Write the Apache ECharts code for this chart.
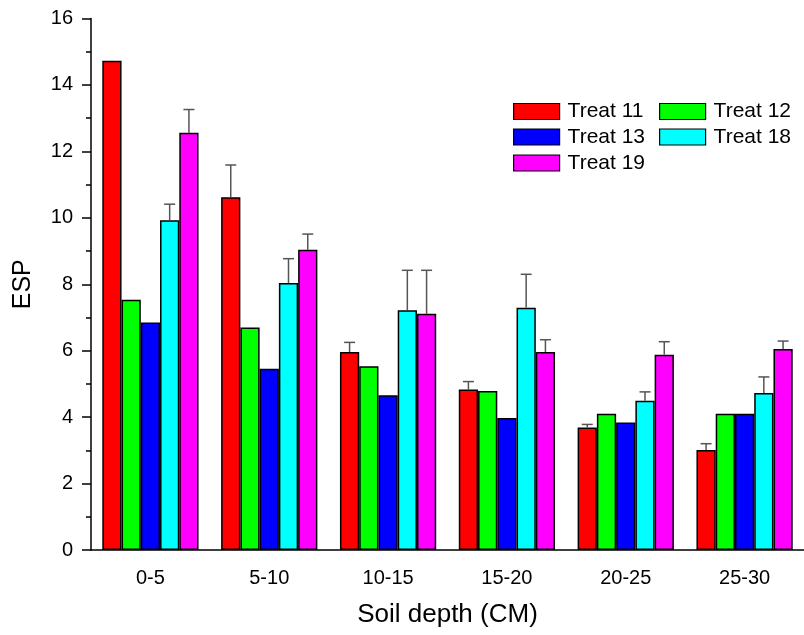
<!DOCTYPE html>
<html>
<head>
<meta charset="utf-8">
<script src="https://cdn.jsdelivr.net/npm/echarts@6/dist/echarts.min.js"></script>
<style>html,body{margin:0;padding:0;background:#fff}#c{width:804px;height:635px}</style>
</head>
<body>
<div id="c"></div>
<script>
const categories = ['0-5', '5-10', '10-15', '15-20', '20-25', '25-30'];
const seriesNames = ['Treat 11', 'Treat 12', 'Treat 13', 'Treat 18', 'Treat 19'];
const treat11 = [14.73, 10.62, 5.96, 4.83, 3.69, 3.01];
const treat12 = [7.53, 6.70, 5.53, 4.79, 4.10, 4.10];
const treat13 = [6.85, 5.46, 4.66, 3.97, 3.84, 4.10];
const treat18 = [9.93, 8.04, 7.22, 7.29, 4.49, 4.73];
const treat19 = [12.56, 9.04, 7.11, 5.96, 5.88, 6.05];
// upper end of the error bar (null = none drawn)
const err11 = [null, 11.59, 6.25, 5.07, 3.78, 3.20];
const err12 = [null, null, null, null, null, null];
const err13 = [null, null, null, null, null, null];
const err18 = [10.41, 8.77, 8.42, 8.30, 4.76, 5.21];
const err19 = [13.26, 9.51, 8.42, 6.33, 6.27, 6.29];
const yTicks = [0, 2, 4, 6, 8, 10, 12, 14, 16];

const values = [treat11, treat12, treat13, treat18, treat19];
const errs = [err11, err12, err13, err18, err19];
const colors = ['#FF0000', '#00FF00', '#0000FF', '#00FFFF', '#FF00FF'];
const FONT = 'Liberation Sans, Arial, Helvetica, sans-serif';
const GAP = 0.19;

const chart = echarts.init(document.getElementById('c'));

const series = [];
values.forEach((vals, si) => {
  series.push({
    name: seriesNames[si],
    type: 'bar',
    data: vals,
    barGap: '0%',
    barCategoryGap: (GAP * 100) + '%',
    itemStyle: { color: colors[si], borderColor: '#000', borderWidth: 1.5 },
    emphasis: { disabled: true },
    z: 2
  });
});
values.forEach((vals, si) => {
  const data = [];
  vals.forEach((v, ci) => { if (errs[si][ci] != null) data.push([ci, v, errs[si][ci]]); });
  series.push({
    type: 'custom',
    data: data,
    encode: { x: 0, y: 2 },
    z: 3,
    silent: true,
    renderItem: function (params, api) {
      const ci = api.value(0), v = api.value(1), e = api.value(2);
      const base = api.coord([ci, v]);
      const top = api.coord([ci, e]);
      const band = api.size([1, 0])[0];
      const bw = band * (1 - GAP) / 5;
      const x = base[0] - band * (1 - GAP) / 2 + bw * (si + 0.5);
      const st = { stroke: '#555', lineWidth: 1.5 };
      return {
        type: 'group',
        children: [
          { type: 'line', shape: { x1: x, y1: base[1], x2: x, y2: top[1] }, style: st },
          { type: 'line', shape: { x1: x - 5.5, y1: top[1], x2: x + 5.5, y2: top[1] }, style: st }
        ]
      };
    }
  });
});

const legendPos = [[513, 101], [659, 101], [513, 126.5], [659, 126.5], [513, 152.5]];
const legends = seriesNames.map((n, i) => ({
  data: [n],
  left: legendPos[i][0],
  top: legendPos[i][1],
  padding: 0,
  icon: 'rect',
  itemWidth: 46,
  itemHeight: 16,
  selectedMode: false,
  itemStyle: { borderColor: '#000', borderWidth: 1.2 },
  textStyle: { fontFamily: FONT, fontSize: 21, color: '#000', padding: [0, 0, 0, 3] }
}));

chart.setOption({
  animation: false,
  backgroundColor: '#fff',
  textStyle: { fontFamily: FONT },
  legend: legends,
  grid: { left: 91, right: -7, top: 18.5, bottom: 85, containLabel: false },
  xAxis: [{
    type: 'category',
    data: categories,
    name: 'Soil depth (CM)',
    nameLocation: 'middle',
    nameGap: 52,
    nameTextStyle: { fontFamily: FONT, fontSize: 26, color: '#000' },
    axisLine: { lineStyle: { color: '#000', width: 1.5 } },
    axisTick: { alignWithLabel: true, length: 9, lineStyle: { color: '#000', width: 1.5 } },
    axisLabel: { interval: 0, margin: 18, fontFamily: FONT, fontSize: 20, color: '#000' },
    splitLine: { show: false }
  }, {
    type: 'category',
    data: categories,
    position: 'bottom',
    axisLine: { show: false },
    axisTick: { length: 5, lineStyle: { color: '#000', width: 1.5 } },
    axisLabel: { show: false },
    splitLine: { show: false }
  }],
  yAxis: {
    type: 'value',
    min: yTicks[0],
    max: yTicks[yTicks.length - 1],
    interval: 2,
    name: 'ESP',
    nameLocation: 'middle',
    nameGap: 55,
    nameTextStyle: { fontFamily: FONT, fontSize: 25, color: '#000' },
    axisLine: { show: true, lineStyle: { color: '#000', width: 1.5 } },
    axisTick: { show: true, length: 9, lineStyle: { color: '#000', width: 1.5 } },
    minorTick: { show: true, splitNumber: 2, length: 5, lineStyle: { color: '#000', width: 1.5 } },
    axisLabel: { margin: 18, fontFamily: FONT, fontSize: 20, color: '#000' },
    splitLine: { show: false }
  },
  series: series
});
</script>
</body>
</html>
